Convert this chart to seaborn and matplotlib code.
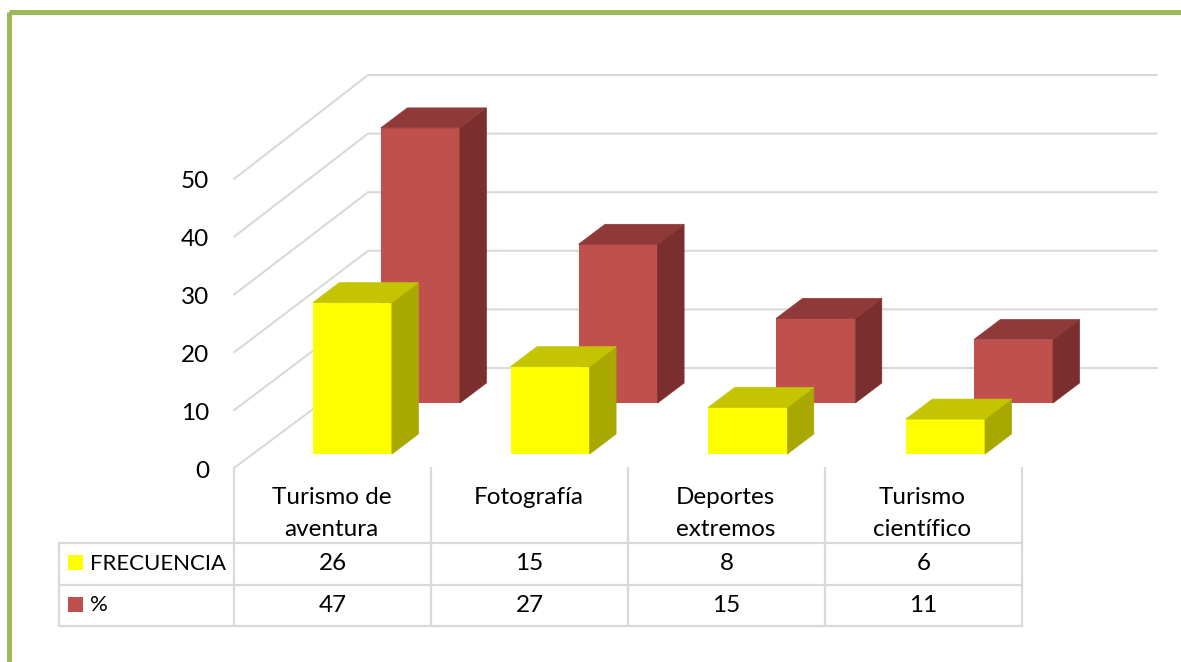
import pandas as pd
import seaborn as sns
import matplotlib
matplotlib.use('Agg')
import matplotlib.pyplot as plt
from matplotlib.patches import Polygon, Rectangle

categorias = ['Turismo de\naventura', 'Fotografía', 'Deportes\nextremos', 'Turismo\ncientífico']
frecuencia = [26, 15, 8, 6]
porcentaje = [47.27, 27.27, 14.55, 10.91]
frecuencia_txt = ['26', '15', '8', '6']
porcentaje_txt = ['47', '27', '15', '11']
ticks_y = [0, 10, 20, 30, 40, 50]

W, H = 1181, 662
PX = 5.82      # pixels per value unit
PASO = 197     # pixels per table column
PASO_BAR = 197.7 # pixels per bar group
GRIS = '#D9D9D9'

sns.set_theme(style='white')
plt.rcParams['font.family'] = ['Lato', 'DejaVu Sans']

fig = plt.figure(figsize=(W / 100, H / 100), dpi=100)
fig.patch.set_facecolor('white')

# background layer in pixels: frame, walls, table
bg = fig.add_axes([0, 0, 1, 1])
bg.set_xlim(0, W)
bg.set_ylim(H, 0)
bg.set_axis_off()
bg.add_patch(Rectangle((8.5, 11.5), 1300, 800, fill=False, ec='#9BBB59', lw=3.6))

for i, t in enumerate(ticks_y):
    y_front = 468 - t * 5.78
    y_back = 368 - t * 5.86
    bg.plot([234, 368, 1157], [y_front, y_back, y_back], color=GRIS, lw=1.5, solid_joinstyle='miter')
    bg.text(209, y_front + 3, str(t), ha='right', va='center', fontsize=17.5, color='black')

xs = [234 + PASO * i for i in range(5)]
for x in xs:
    bg.plot([x, x], [468, 626], color=GRIS, lw=1.6)
bg.plot([59, 59], [543, 626], color=GRIS, lw=1.6)
for y in [543, 584.5, 626]:
    bg.plot([59, xs[-1]], [y, y], color=GRIS, lw=1.6)

for i, c in enumerate(categorias):
    xc = xs[i] + PASO / 2
    lineas = c.split('\n')
    if len(lineas) == 2:
        bg.text(xc - 1, 497, lineas[0], ha='center', va='center', fontsize=17.5, color='black')
        bg.text(xc - 1, 530, lineas[1], ha='center', va='center', fontsize=17.5, color='black')
    else:
        bg.text(xc - 1, 497, c, ha='center', va='center', fontsize=17.5, color='black')
    bg.text(xc, 564, frecuencia_txt[i], ha='center', va='center', fontsize=17.5, color='black')
    bg.text(xc, 606, porcentaje_txt[i], ha='center', va='center', fontsize=17.5, color='black')

bg.add_patch(Rectangle((68, 555), 15, 15, color='#FFFF00', lw=0))
bg.add_patch(Rectangle((68, 597), 15, 15, color='#C0504D', lw=0))
bg.text(90, 564, 'FRECUENCIA', ha='left', va='center', fontsize=16, color='black')
bg.text(90, 605, '%', ha='left', va='center', fontsize=16, color='black')


def barras3d(valores, left, base, frente, arriba, lado):
    # one transparent axes per series, shifted to fake the chart depth
    alto = 60 * PX
    ax = fig.add_axes([left / W, (H - base) / H, PASO_BAR * 4 / W, alto / H])
    ax.patch.set_alpha(0)
    df = pd.DataFrame({'cat': categorias, 'val': valores})
    sns.barplot(data=df, x='cat', y='val', color=frente, saturation=1, width=0.4, linewidth=0, ax=ax)
    ax.set_xlim(-0.5, 3.5)
    ax.set_ylim(0, 60)
    ax.set_axis_off()
    dx = 26.5 / PASO_BAR
    dy = 20 / PX
    for p in list(ax.patches):
        x0, w, h = p.get_x(), p.get_width(), p.get_height()
        x1 = x0 + w
        ax.add_patch(Polygon([(x1, 0), (x1 + dx, dy), (x1 + dx, h + dy), (x1, h)],
                             fc=lado, ec=lado, lw=0.5, clip_on=False))
        ax.add_patch(Polygon([(x0, h), (x1, h), (x1 + dx, h + dy), (x0 + dx, h + dy)],
                             fc=arriba, ec=arriba, lw=0.5, clip_on=False))
    return ax


barras3d(porcentaje, 321.5, 403, '#C0504D', '#8F3A38', '#7A2F2E')
barras3d(frecuencia, 253.5, 454, '#FFFF00', '#C4C400', '#A8A800')

fig.savefig('out.png', dpi=100)
